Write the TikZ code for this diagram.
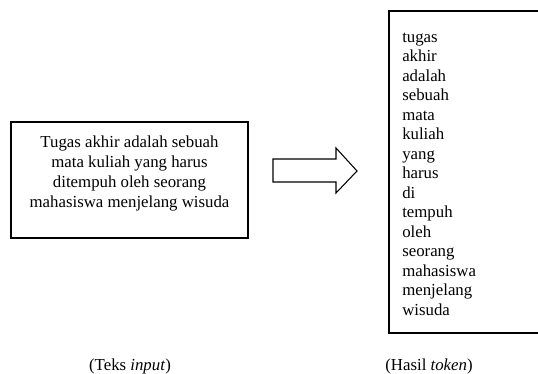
\documentclass[tikz,border=0pt]{standalone}
\usepackage{fontspec}
\setmainfont{Liberation Serif}
\usetikzlibrary{positioning}

\begin{document}
\begin{tikzpicture}[x=0.75pt, y=-0.75pt, every node/.style={font=\fontsize{12.6}{15}\selectfont, inner sep=0pt},
  framebox/.style={draw, line width=1.2pt, rectangle},
  blockarrow/.style={draw, line width=0.8pt, line join=miter}]
\useasboundingbox (0,0) rectangle (538,374);
% kotak teks input
\node[framebox, minimum width=177.75pt, minimum height=87pt] (inputbox) at (129.5,180) {};
\node[align=center] (inputtext) at (129.5,173) {Tugas akhir adalah sebuah\\ mata kuliah yang harus\\ ditempuh oleh seorang\\ mahasiswa menjelang wisuda};
% kotak hasil token
\node[framebox, minimum width=117pt, minimum height=241.5pt] (tokenbox) at (467,172) {};
\node[align=left, anchor=base west, font=\fontsize{12.6}{14.6}\selectfont] (tokentext) at (402,315) {tugas\\ akhir\\ adalah\\ sebuah\\ mata\\ kuliah\\ yang\\ harus\\ di\\ tempuh\\ oleh\\ seorang\\ mahasiswa\\ menjelang\\ wisuda};
% panah
\draw[blockarrow] (273,159) -- (336,159) -- (336,148) -- (357,171) -- (336,193) -- (336,182) -- (273,182) -- cycle;
% keterangan
\node[anchor=base] (inputcap) at (130,370) {(Teks \textit{input})};
\node[anchor=base] (tokencap) at (429,370) {(Hasil \textit{token})};
\end{tikzpicture}
\end{document}
